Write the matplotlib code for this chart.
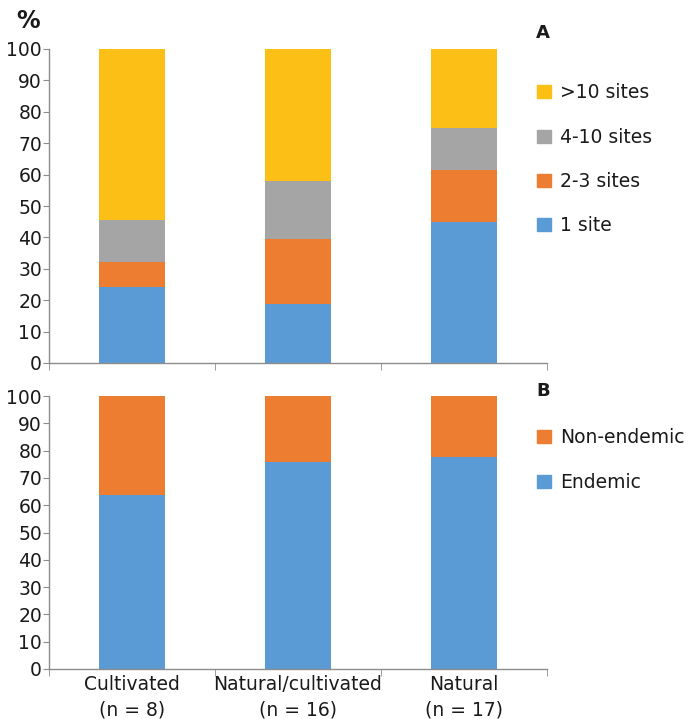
import numpy as np
import matplotlib
matplotlib.use("Agg")
import matplotlib.pyplot as plt
from matplotlib.patches import Patch

# data
groups = ['Cultivated\n(n = 8)', 'Natural/cultivated\n(n = 16)', 'Natural\n(n = 17)']
one_site = [24.2, 18.7, 44.8]
two_three = [8.1, 20.7, 16.8]
four_ten = [13.4, 18.7, 13.3]
over_ten = [54.3, 41.9, 25.1]

endemic = [63.7, 76.0, 77.6]
non_endemic = [36.3, 24.0, 22.4]

c_blue = '#5b9bd5'
c_orange = '#ed7d31'
c_gray = '#a5a5a5'
c_yellow = '#fbbf16'
axis_col = '#8c8c8c'
txt_col = '#1a1a1a'

plt.rcParams['font.family'] = 'DejaVu Sans'
fs = 13.5

fig = plt.figure(figsize=(6.91, 7.19), dpi=100)
W, H = 691.0, 719.0
ax1 = fig.add_axes([49 / W, 1 - 363 / H, (547 - 49) / W, (363 - 49) / H])
ax2 = fig.add_axes([49 / W, 1 - 669 / H, (547 - 49) / W, (669 - 396) / H])

x = np.arange(len(groups))
bw = 0.4


def style_axis(ax):
    ax.set_xlim(-0.5, 2.5)
    ax.set_ylim(0, 100)
    ax.set_yticks(np.arange(0, 101, 10))
    for s in ['top', 'right']:
        ax.spines[s].set_visible(False)
    for s in ['left', 'bottom']:
        ax.spines[s].set_color(axis_col)
        ax.spines[s].set_linewidth(1.0)
    ax.tick_params(axis='y', direction='out', length=4, color=axis_col,
                   labelsize=fs, labelcolor=txt_col, pad=1)
    ax.set_xticks(x)
    ax.tick_params(axis='x', which='major', length=0, labelsize=fs,
                   labelcolor=txt_col, pad=4)
    ax.set_xticks([-0.5, 0.5, 1.5, 2.5], minor=True)
    ax.tick_params(axis='x', which='minor', direction='out', length=5,
                   color=axis_col)


# panel A
bottom = np.zeros(3)
parts = [(one_site, c_blue), (two_three, c_orange), (four_ten, c_gray), (over_ten, c_yellow)]
for vals, col in parts:
    ax1.bar(x, vals, bw, bottom=bottom, color=col, linewidth=0)
    bottom += np.array(vals)
style_axis(ax1)
ax1.set_xticklabels([])

# panel B
ax2.bar(x, endemic, bw, color=c_blue, linewidth=0)
ax2.bar(x, non_endemic, bw, bottom=endemic, color=c_orange, linewidth=0)
style_axis(ax2)
ax2.set_xticklabels(groups, linespacing=1.45)

# legends
hA = [Patch(color=c_yellow), Patch(color=c_gray), Patch(color=c_orange), Patch(color=c_blue)]
lA = ['>10 sites', '4-10 sites', '2-3 sites', '1 site']
fig.legend(hA, lA, loc='upper left', bbox_to_anchor=(528 / W, 1 - 74 / H),
           frameon=False, fontsize=fs, handlelength=0.7, handleheight=0.7,
           handletextpad=0.5, labelspacing=1.35, borderpad=0, labelcolor=txt_col)

hB = [Patch(color=c_orange), Patch(color=c_blue)]
lB = ['Non-endemic', 'Endemic']
fig.legend(hB, lB, loc='upper left', bbox_to_anchor=(528 / W, 1 - 419 / H),
           frameon=False, fontsize=fs, handlelength=0.7, handleheight=0.7,
           handletextpad=0.5, labelspacing=1.35, borderpad=0, labelcolor=txt_col)

fig.text(16 / W, 1 - 21 / H, '%', fontsize=17, fontweight='bold', color=txt_col,
         va='center', ha='left')
fig.text(536 / W, 1 - 33 / H, 'A', fontsize=13, fontweight='bold', color=txt_col,
         va='center', ha='left')
fig.text(536 / W, 1 - 391 / H, 'B', fontsize=13, fontweight='bold', color=txt_col,
         va='center', ha='left')

fig.savefig('out.png', dpi=100)
